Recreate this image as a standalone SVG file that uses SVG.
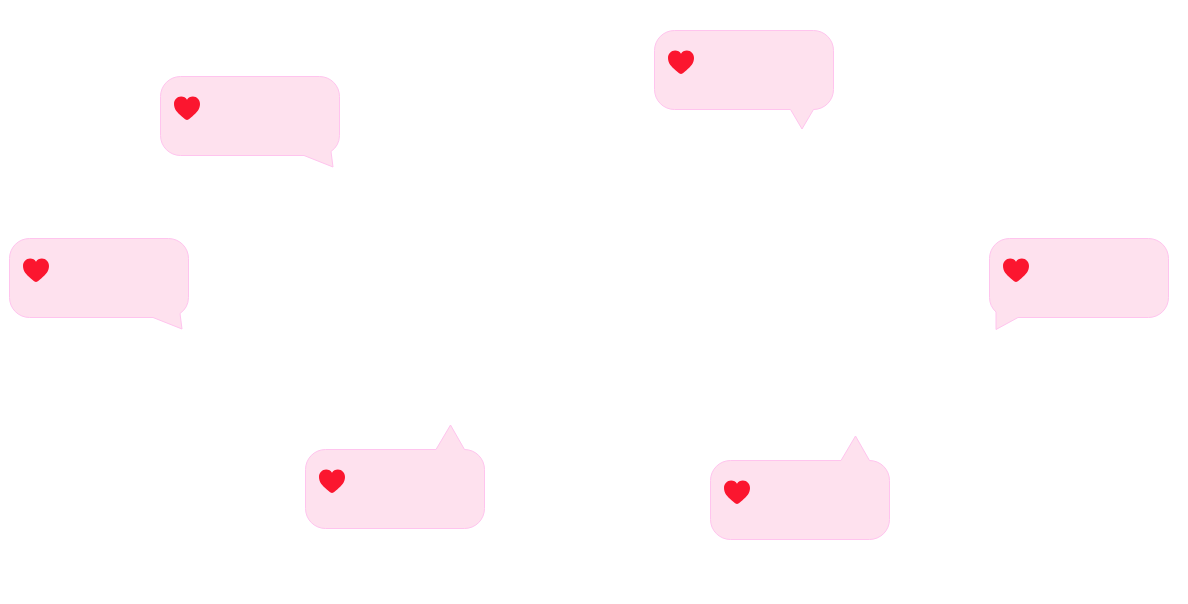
<svg xmlns="http://www.w3.org/2000/svg" width="1188" height="604" viewBox="0 0 1188 604">
<style>
.b{fill:#fee1ee;stroke:#ffc4ee;stroke-width:1;stroke-linejoin:round}
.h{fill:#fb162f}
</style>
<defs>
<path id="heart" class="h" d="M13 23.500C12 23.500 10.800 22.400 7.500 19.700C3.200 16.200 0 12.800 0 7.600C0 3.200 3.200 0 7.100 0C9.700 0 11.800 1.200 13 3.200C14.200 1.200 16.300 0 18.900 0C22.800 0 26 3.200 26 7.600C26 12.800 22.800 16.200 18.500 19.700C15.200 22.400 14 23.500 13 23.500Z"/>
</defs>
<rect width="1188" height="604" fill="#fff"/>
<g id="bubble-1">
<path class="b" d="M180.500 76.500H319.500A20 20 0 0 1 339.500 96.500V135.500A20 20 0 0 1 331 151.500L333 167L304 155.500H180.500A20 20 0 0 1 160.500 135.500V96.500A20 20 0 0 1 180.500 76.500Z"/>
<use href="#heart" x="174" y="96.500"/>
</g>
<g id="bubble-2">
<path class="b" d="M674.500 30.500H813.500A20 20 0 0 1 833.500 50.500V89.500A20 20 0 0 1 813.500 109.500L802 129L790.500 109.500H674.500A20 20 0 0 1 654.500 89.500V50.500A20 20 0 0 1 674.500 30.500Z"/>
<use href="#heart" x="668" y="50.500"/>
</g>
<g id="bubble-3">
<path class="b" d="M29.500 238.500H168.500A20 20 0 0 1 188.500 258.500V297.500A20 20 0 0 1 180 313.500L182 329L153 317.500H29.500A20 20 0 0 1 9.500 297.500V258.500A20 20 0 0 1 29.500 238.500Z"/>
<use href="#heart" x="23" y="258.500"/>
</g>
<g id="bubble-4">
<path class="b" d="M1009.500 238.500H1148.500A20 20 0 0 1 1168.500 258.500V297.500A20 20 0 0 1 1148.500 317.500H1018L996 329.500V312A20 20 0 0 1 989.500 297.500V258.500A20 20 0 0 1 1009.500 238.500Z"/>
<use href="#heart" x="1003" y="258.500"/>
</g>
<g id="bubble-5">
<path class="b" d="M325.500 449.500H436L450.500 425L464.500 449.500A20 20 0 0 1 484.500 469.500V508.500A20 20 0 0 1 464.500 528.500H325.500A20 20 0 0 1 305.500 508.500V469.500A20 20 0 0 1 325.500 449.500Z"/>
<use href="#heart" x="319" y="469.500"/>
</g>
<g id="bubble-6">
<path class="b" d="M730.500 460.500H841L855.500 436L869.500 460.500A20 20 0 0 1 889.500 480.500V519.500A20 20 0 0 1 869.500 539.500H730.500A20 20 0 0 1 710.500 519.500V480.500A20 20 0 0 1 730.500 460.500Z"/>
<use href="#heart" x="724" y="480.500"/>
</g>
</svg>
